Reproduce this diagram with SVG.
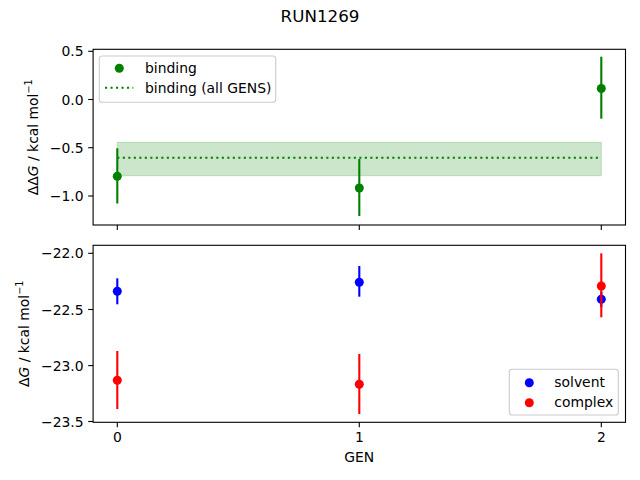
<svg xmlns="http://www.w3.org/2000/svg" width="640" height="480" viewBox="0 0 640 480">
<style>
text{font-family:"DejaVu Sans",Verdana,sans-serif;font-size:13.9px;fill:#000}
.spine{fill:none;stroke:#000;stroke-width:1.1}
.tick{stroke:#000;stroke-width:1.1}
.yl{text-anchor:end}
.xl{text-anchor:middle}
.eg{stroke:#008000;stroke-width:2.1}
.eb{stroke:#0000ff;stroke-width:2.1}
.er{stroke:#ff0000;stroke-width:2.1}
.leg{fill:#fff;fill-opacity:0.8;stroke:#cccccc;stroke-width:1.1}
</style>
<rect width="640" height="480" fill="#fff"/>
<text x="320" y="22" text-anchor="middle" style="font-size:16.7px">RUN1269</text>

<g id="top-axes">
  <rect class="spine" x="93.1" y="49.3" width="532.4" height="175.7"/>
  <g id="top-ticks">
    <line class="tick" x1="93.1" y1="51.3" x2="88.2" y2="51.3"/>
    <line class="tick" x1="93.1" y1="99.5" x2="88.2" y2="99.5"/>
    <line class="tick" x1="93.1" y1="147.7" x2="88.2" y2="147.7"/>
    <line class="tick" x1="93.1" y1="196" x2="88.2" y2="196"/>
    <line class="tick" x1="117.3" y1="225" x2="117.3" y2="229.9"/>
    <line class="tick" x1="359.3" y1="225" x2="359.3" y2="229.9"/>
    <line class="tick" x1="601.3" y1="225" x2="601.3" y2="229.9"/>
    <text class="yl" x="83.6" y="56.3">0.5</text>
    <text class="yl" x="83.6" y="104.5">0.0</text>
    <text class="yl" x="83.6" y="152.7">−0.5</text>
    <text class="yl" x="83.6" y="201">−1.0</text>
  </g>
  <text transform="translate(37.5,137.2) rotate(-90)" text-anchor="middle">ΔΔ<tspan font-style="italic">G</tspan> / kcal mol<tspan style="font-size:9.7px" dy="-5.5">−1</tspan></text>
</g>

<g id="band">
  <rect x="117.3" y="142.3" width="484" height="33.4" fill="#008000" fill-opacity="0.2" stroke="#008000" stroke-opacity="0.2" stroke-width="1"/>
  <line x1="117.3" y1="157.8" x2="601.3" y2="157.8" stroke="#008000" stroke-width="2.1" stroke-dasharray="2.1,3.4"/>
</g>

<g id="binding-points">
  <line class="eg" x1="117.3" y1="148.3" x2="117.3" y2="203.5"/>
  <circle cx="117.3" cy="176.3" r="4.5" fill="#008000"/>
  <line class="eg" x1="359.3" y1="159" x2="359.3" y2="216"/>
  <circle cx="359.3" cy="188" r="4.5" fill="#008000"/>
  <line class="eg" x1="601.3" y1="56.7" x2="601.3" y2="118.7"/>
  <circle cx="601.3" cy="88.5" r="4.5" fill="#008000"/>
</g>

<g id="top-legend">
  <rect class="leg" x="99.3" y="56" width="176.4" height="46.3" rx="2.8"/>
  <circle cx="119.3" cy="68.3" r="4.5" fill="#008000"/>
  <text x="145" y="73">binding</text>
  <line x1="105" y1="87.8" x2="133.3" y2="87.8" stroke="#008000" stroke-width="2.1" stroke-dasharray="2.1,3.4"/>
  <text x="145" y="93">binding (all GENS)</text>
</g>

<g id="bottom-axes">
  <rect class="spine" x="93.1" y="245.3" width="532.4" height="177"/>
  <g id="bottom-ticks">
    <line class="tick" x1="93.1" y1="253.3" x2="88.2" y2="253.3"/>
    <line class="tick" x1="93.1" y1="309.5" x2="88.2" y2="309.5"/>
    <line class="tick" x1="93.1" y1="365.6" x2="88.2" y2="365.6"/>
    <line class="tick" x1="93.1" y1="421.5" x2="88.2" y2="421.5"/>
    <line class="tick" x1="117.3" y1="422.3" x2="117.3" y2="427.2"/>
    <line class="tick" x1="359.3" y1="422.3" x2="359.3" y2="427.2"/>
    <line class="tick" x1="601.3" y1="422.3" x2="601.3" y2="427.2"/>
    <text class="yl" x="83.6" y="258.3">−22.0</text>
    <text class="yl" x="83.6" y="314.5">−22.5</text>
    <text class="yl" x="83.6" y="370.6">−23.0</text>
    <text class="yl" x="83.6" y="426.5">−23.5</text>
    <text class="xl" x="117.3" y="442">0</text>
    <text class="xl" x="359.3" y="442">1</text>
    <text class="xl" x="601.3" y="442">2</text>
  </g>
  <text class="xl" x="359.3" y="462.3">GEN</text>
  <text transform="translate(28.5,333.8) rotate(-90)" text-anchor="middle">Δ<tspan font-style="italic">G</tspan> / kcal mol<tspan style="font-size:9.7px" dy="-5.5">−1</tspan></text>
</g>

<g id="solvent-points">
  <line class="eb" x1="117.3" y1="278.3" x2="117.3" y2="304.3"/>
  <circle cx="117.3" cy="291.3" r="4.5" fill="#0000ff"/>
  <line class="eb" x1="359.3" y1="266" x2="359.3" y2="296.7"/>
  <circle cx="359.3" cy="282.3" r="4.5" fill="#0000ff"/>
  <line class="eb" x1="601.3" y1="292" x2="601.3" y2="307"/>
  <circle cx="601.3" cy="299.3" r="4.5" fill="#0000ff"/>
</g>

<g id="complex-points">
  <line class="er" x1="117.3" y1="351" x2="117.3" y2="409"/>
  <circle cx="117.3" cy="380.3" r="4.5" fill="#ff0000"/>
  <line class="er" x1="359.3" y1="354" x2="359.3" y2="414"/>
  <circle cx="359.3" cy="384.3" r="4.5" fill="#ff0000"/>
  <line class="er" x1="601.3" y1="253.3" x2="601.3" y2="317.3"/>
  <circle cx="601.3" cy="286" r="4.5" fill="#ff0000"/>
</g>

<g id="bottom-legend">
  <rect class="leg" x="509.3" y="369.3" width="109" height="45.7" rx="2.8"/>
  <circle cx="529.3" cy="382.7" r="4.5" fill="#0000ff"/>
  <text x="554.3" y="386.5">solvent</text>
  <circle cx="529.3" cy="402.7" r="4.5" fill="#ff0000"/>
  <text x="554.3" y="406.5">complex</text>
</g>
</svg>
